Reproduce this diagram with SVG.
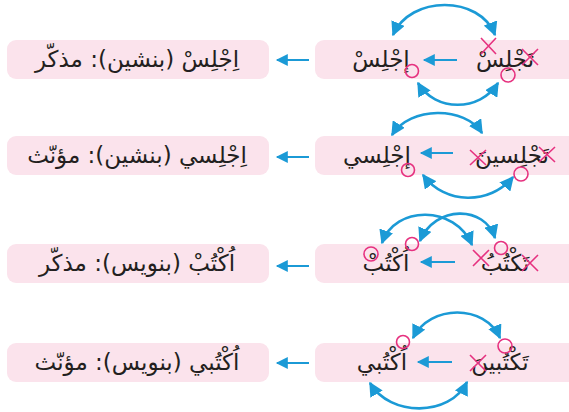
<svg xmlns="http://www.w3.org/2000/svg" width="569" height="412" viewBox="0 0 569 412">
<style>
.box{fill:#fbe3ec;}
.ar{font-family:"DejaVu Sans",sans-serif;font-size:23px;fill:#231f20;text-anchor:middle;direction:rtl;}
.ln{stroke:#1b9ad6;stroke-width:2;fill:none;}
.arc{stroke:#1b9ad6;stroke-width:2.6;fill:none;marker-start:url(#ah);marker-end:url(#ah);}
.mk{stroke:#e6317f;stroke-width:1.6;fill:none;}
</style>
<defs>
<marker id="ah" viewBox="0 0 10 10" refX="9" refY="5" markerWidth="5.5" markerHeight="5.5" orient="auto-start-reverse" markerUnits="strokeWidth"><path d="M0,0 L10,5 L0,10 z" fill="#1b9ad6"/></marker>
<marker id="sh" viewBox="0 0 10 10" refX="9" refY="5" markerWidth="7" markerHeight="6" orient="auto" markerUnits="strokeWidth"><path d="M0,0 L10,5 L0,10 z" fill="#1b9ad6"/></marker>
</defs>

<g id="row1">
<rect class="box" x="7" y="40" width="262" height="39" rx="9"/>
<text class="ar" x="137" y="67">اِجْلِسْ (بنشين): مذکّر</text>
<rect class="box" x="315" y="40" width="265" height="39" rx="9"/>
<text class="ar" x="505" y="67">تَجْلِسْ</text>
<text class="ar" x="381" y="67">إجْلِسْ</text>
</g>
<g id="row2">
<rect class="box" x="7" y="136" width="262" height="39" rx="9"/>
<text class="ar" x="137" y="163">اِجْلِسي (بنشين): مؤنّث</text>
<rect class="box" x="315" y="136" width="265" height="39" rx="9"/>
<text class="ar" x="512" y="163">تَجْلِسينَ</text>
<text class="ar" x="377" y="163">إجْلِسي</text>
</g>
<g id="row3">
<rect class="box" x="7" y="244" width="262" height="39" rx="9"/>
<text class="ar" x="137" y="271">اُكْتُبْ (بنويس): مذکّر</text>
<rect class="box" x="315" y="244" width="265" height="39" rx="9"/>
<text class="ar" x="505" y="271">تَكْتُبُ</text>
<text class="ar" x="386" y="271">اُكْتُبْ</text>
</g>
<g id="row4">
<rect class="box" x="7" y="343" width="262" height="39" rx="9"/>
<text class="ar" x="137" y="370">اُكْتُبي (بنويس): مؤنّث</text>
<rect class="box" x="315" y="343" width="265" height="39" rx="9"/>
<text class="ar" x="500" y="370">تَكْتُبينَ</text>
<text class="ar" x="382" y="370">اُكْتُبي</text>
</g>

<g id="connectors">
<path class="ln" d="M309,60 L277,60" marker-end="url(#sh)"/>
<path class="ln" d="M309,157 L277,157" marker-end="url(#sh)"/>
<path class="ln" d="M309,266 L277,266" marker-end="url(#sh)"/>
<path class="ln" d="M309,363 L277,363" marker-end="url(#sh)"/>
<path class="ln" d="M457,60 L424,60" marker-end="url(#sh)"/>
<path class="ln" d="M453,153 L421,153" marker-end="url(#sh)"/>
<path class="ln" d="M455,262 L421,262" marker-end="url(#sh)"/>
<path class="ln" d="M452,362 L418,362" marker-end="url(#sh)"/>
<path class="arc" d="M393,35 C410,-5 480,-5 495,35"/>
<path class="arc" d="M418,83 C435,112 480,112 498,83"/>
<path class="arc" d="M392,135 C410,106 465,106 482,133"/>
<path class="arc" d="M423,175 C445,205 490,205 513,177"/>
<path class="arc" d="M382,243 C395,205 455,205 472,245"/>
<path class="arc" d="M420,241 C435,205 485,205 495,238"/>
<path class="arc" d="M413,338 C430,304 485,304 500,338"/>
<path class="arc" d="M370,383 C390,417 450,417 467,382"/>
</g>

<g id="marks">
<circle class="mk" cx="412" cy="71" r="6.5"/>
<circle class="mk" cx="508" cy="75" r="7"/>
<path class="mk" d="M522,49 L538,65 M538,49 L522,65"/>
<path class="mk" d="M481,38 L496,54 M496,38 L481,54"/>
<circle class="mk" cx="408" cy="170" r="6.5"/>
<circle class="mk" cx="521" cy="174" r="7"/>
<path class="mk" d="M539,147 L555,162 M555,147 L539,162"/>
<path class="mk" d="M470,150 L486,165 M486,150 L470,165"/>
<circle class="mk" cx="371" cy="254" r="7"/>
<circle class="mk" cx="412" cy="244" r="6.5"/>
<circle class="mk" cx="501" cy="248" r="6.5"/>
<path class="mk" d="M522,255 L538,271 M538,255 L522,271"/>
<path class="mk" d="M473,250 L489,266 M489,250 L473,266"/>
<circle class="mk" cx="403" cy="342" r="6.5"/>
<circle class="mk" cx="505" cy="346" r="7"/>
<path class="mk" d="M470,355 L486,371 M486,355 L470,371"/>
</g>
</svg>
